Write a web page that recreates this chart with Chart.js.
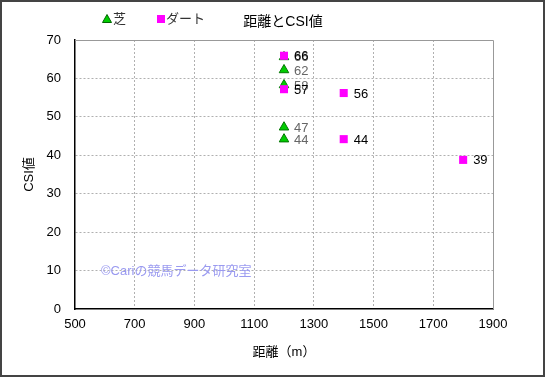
<!DOCTYPE html>
<html>
<head>
<meta charset="utf-8">
<script src="https://cdn.jsdelivr.net/npm/chart.js@4"></script>
<style>
  html, body { margin: 0; padding: 0; background: #fff; }
</style>
</head>
<body>
<canvas id="chart" width="545" height="377"></canvas>
<script>
const seriesNames = ['芝', 'ダート'];
const turfDistance = [1200, 1200, 1200, 1200, 1200];
const turfCsi = [65.6, 62.2, 58.3, 47.3, 44.2];
const dirtDistance = [1200, 1200, 1400, 1400, 1800];
const dirtCsi = [65.9, 57.2, 56.2, 44.2, 38.8];
const xTicks = [500, 700, 900, 1100, 1300, 1500, 1700, 1900];
const yTicks = [0, 10, 20, 30, 40, 50, 60, 70];

const FONT = '"Liberation Sans", Arial, "Noto Sans CJK JP", sans-serif';

const toPoints = (xs, ys) => xs.map((x, i) => ({ x, y: ys[i] }));

const decorations = {
    id: 'decorations',
    afterDatasetsDraw(chart) {
        const { ctx, chartArea: a } = chart;
        ctx.save();
        // solid top and right edges of the plot
        ctx.strokeStyle = '#999';
        ctx.lineWidth = 1;
        ctx.beginPath();
        ctx.moveTo(a.left, a.top + 0.5);
        ctx.lineTo(a.right + 0.5, a.top + 0.5);
        ctx.lineTo(a.right + 0.5, a.bottom);
        ctx.stroke();

        // value labels
        ctx.font = '13px ' + FONT;
        ctx.textAlign = 'left';
        ctx.textBaseline = 'middle';
        const colors = ['#666', '#000'];
        [0, 1].forEach(di => {
            const meta = chart.getDatasetMeta(di);
            meta.data.forEach((pt, i) => {
                ctx.fillStyle = colors[di];
                ctx.fillText(String(Math.round(chart.data.datasets[di].data[i].y)), pt.x + 10, pt.y + 1);
            });
        });

        // watermark
        ctx.font = '13px ' + FONT;
        ctx.fillStyle = '#9a9af0';
        ctx.fillText('©Cariの競馬データ研究室', 101, 271);
        ctx.restore();
    },
    afterDraw(chart) {
        const { ctx } = chart;
        ctx.save();
        // legend
        ctx.fillStyle = '#00cc00';
        ctx.strokeStyle = '#006600';
        ctx.lineWidth = 1;
        ctx.beginPath();
        ctx.moveTo(107, 14.5);
        ctx.lineTo(111.5, 22.5);
        ctx.lineTo(102.5, 22.5);
        ctx.closePath();
        ctx.fill();
        ctx.stroke();
        ctx.fillStyle = '#ff00ff';
        ctx.fillRect(157, 15, 8, 8);
        ctx.font = '13px ' + FONT;
        ctx.fillStyle = '#333';
        ctx.textBaseline = 'middle';
        ctx.textAlign = 'left';
        ctx.fillText(seriesNames[0], 113, 19);
        ctx.fillText(seriesNames[1], 166, 19);
        // title
        ctx.font = '14px ' + FONT;
        ctx.fillStyle = '#000';
        ctx.textAlign = 'center';
        ctx.fillText('距離とCSI値', 283, 22);
        // outer frame
        ctx.strokeStyle = '#444';
        ctx.lineWidth = 2;
        ctx.strokeRect(1, 1, 543, 375);
        ctx.restore();
    }
};

new Chart(document.getElementById('chart'), {
    type: 'scatter',
    data: {
        datasets: [
            {
                label: seriesNames[0],
                data: toPoints(turfDistance, turfCsi),
                pointStyle: 'triangle',
                pointRadius: 5.5,
                pointHoverRadius: 5.5,
                backgroundColor: '#00cc00',
                borderColor: '#007700',
                borderWidth: 1,
                order: 1
            },
            {
                label: seriesNames[1],
                data: toPoints(dirtDistance, dirtCsi),
                pointStyle: 'rect',
                pointRadius: 5.7,
                pointHoverRadius: 5.7,
                backgroundColor: '#ff00ff',
                borderColor: '#ff00ff',
                borderWidth: 0,
                order: 0
            }
        ]
    },
    options: {
        responsive: false,
        animation: false,
        events: [],
        layout: { padding: { left: 0, top: 40, right: 52, bottom: 0 } },
        plugins: {
            legend: { display: false },
            title: { display: false },
            tooltip: { enabled: false }
        },
        scales: {
            x: {
                type: 'linear',
                min: 500,
                max: 1900,
                afterBuildTicks: s => { s.ticks = xTicks.map(v => ({ value: v })); },
                afterFit: s => { s.height = 68; },
                grid: {
                    color: c => (c.index === xTicks.length - 1 || c.index === 0) ? 'rgba(0,0,0,0)' : '#b0b0b0',
                    drawTicks: false
                },
                border: { color: '#000', width: 1.5, dash: [2, 2] },
                ticks: {
                    color: '#000', padding: 8, font: { family: FONT, size: 13 },
                    callback: v => String(v)
                },
                title: {
                    display: true,
                    text: '距離（m）',
                    color: '#000',
                    font: { family: FONT, size: 13 },
                    padding: { top: 0, bottom: 17 }
                }
            },
            y: {
                type: 'linear',
                min: 0,
                max: 70,
                afterBuildTicks: s => { s.ticks = yTicks.map(v => ({ value: v })); },
                afterFit: s => { s.width = 75; },
                grid: {
                    color: c => (c.index === 0 || c.index === yTicks.length - 1) ? 'rgba(0,0,0,0)' : '#b0b0b0',
                    drawTicks: false
                },
                border: { color: '#000', width: 1.5, dash: [2, 2] },
                ticks: {
                    color: '#000', padding: 14, font: { family: FONT, size: 13 },
                    callback: v => String(v)
                },
                title: {
                    display: true,
                    text: 'CSI値',
                    color: '#000',
                    font: { family: FONT, size: 13 },
                    padding: { top: 22, bottom: 0 }
                }
            }
        }
    },
    plugins: [decorations]
});
</script>
</body>
</html>
